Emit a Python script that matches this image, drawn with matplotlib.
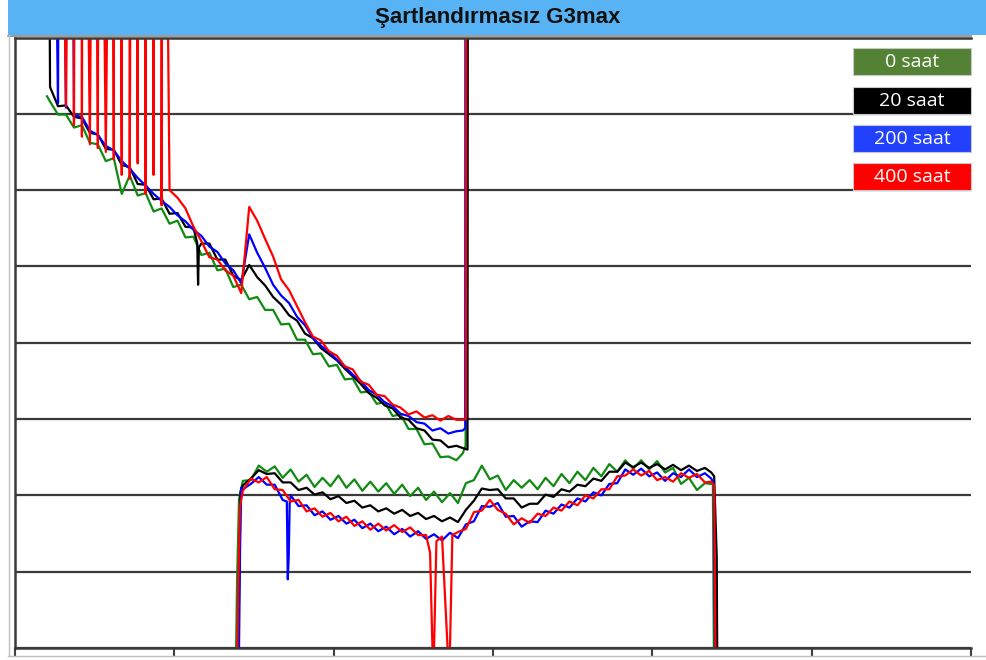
import numpy as np
import matplotlib
matplotlib.use("Agg")
import matplotlib.pyplot as plt
from matplotlib.patches import Rectangle
from matplotlib.lines import Line2D

# sampling grids of the two sweeps
decay_x = np.arange(22, 278, 5)
plateau_x = np.arange(143, 434, 5)

labels = ["0 saat", "20 saat", "200 saat", "400 saat"]
line_colors = ["#108a10", "#000000", "#0000ff", "#ff0000"]
box_colors = ["#548235", "#000000", "#2141ff", "#ff0000"]

# ---- 0 saat
green_decay = [71.6, 69.9, 69.9, 68.2, 68.5, 66.2, 66.0, 63.8, 64.2, 59.5,
               61.9, 59.3, 59.6, 57.2, 57.6, 55.6, 56.0, 53.8, 53.9, 51.5,
               51.8, 49.5, 49.7, 47.3, 47.6, 45.7, 46.0, 44.3, 44.3, 42.4,
               42.5, 40.4, 40.4, 38.5, 38.6, 36.9, 37.1, 35.2, 35.3, 33.5,
               33.6, 32.0, 32.2, 30.4, 30.6, 28.7, 28.7, 26.7, 26.8, 25.0,
               25.1, 24.6]
green_decay_ex_x = [20.1, 281.0, 282.8, 283.0]
green_decay_ex_y = [72.3, 25.5, 26.5, 150]
green_plateau = [21.9, 22.0, 23.9, 23.1, 23.8, 22.3, 23.4, 21.8, 22.7, 21.1,
                 22.3, 21.2, 22.6, 21.0, 22.1, 20.6, 21.8, 20.5, 21.6, 20.2,
                 21.4, 19.9, 21.0, 19.4, 20.5, 19.1, 20.3, 19.0, 21.6, 22.0,
                 23.9, 22.1, 22.6, 20.7, 22.0, 21.0, 22.0, 20.8, 22.3, 21.2,
                 22.8, 21.6, 23.1, 22.0, 23.6, 22.5, 24.1, 23.1, 24.6, 23.5,
                 24.6, 23.4, 24.5, 23.0, 23.6, 21.5, 22.3, 20.7, 21.6]
green_plateau_ex_x = [138.8, 139.4, 140.6, 437.0, 438.0, 438.6]
green_plateau_ex_y = [0, 9.0, 19.5, 21.5, 21.8, 0]

# ---- 20 saat
black_decay = [73.5, 71.0, 71.1, 69.6, 69.4, 67.5, 67.3, 65.4, 65.3, 63.3,
               63.0, 60.8, 60.7, 58.8, 58.9, 56.9, 57.0, 55.2, 55.1, 53.0,
               53.0, 50.9, 50.9, 48.8, 48.2, 50.2, 48.6, 47.5, 46.0, 45.0,
               43.6, 42.9, 41.2, 40.6, 39.3, 38.5, 37.7, 36.6, 35.6, 34.6,
               33.4, 32.8, 31.8, 31.4, 30.2, 29.9, 28.8, 28.5, 27.3, 27.2,
               26.3, 26.5]
black_decay_ex_x = [20.1, 114.4, 114.9, 115.4, 281.0, 284.0, 284.4]
black_decay_ex_y = [150, 53.0, 47.6, 52.5, 26.2, 26.0, 150]
black_plateau = [21.3, 22.2, 23.3, 22.8, 22.9, 21.7, 21.7, 20.7, 21.0, 20.1,
                 20.4, 19.5, 19.9, 19.0, 19.3, 18.4, 18.7, 17.9, 18.3, 17.6,
                 18.1, 17.3, 17.7, 16.9, 17.3, 16.6, 17.1, 16.5, 18.1, 19.3,
                 20.9, 20.7, 20.8, 19.6, 19.6, 18.4, 18.9, 18.9, 20.1, 19.8,
                 20.8, 20.5, 21.4, 21.2, 22.2, 21.9, 23.1, 23.1, 24.3, 23.7,
                 24.3, 23.6, 24.1, 23.4, 24.0, 23.3, 23.9, 23.2, 23.6]
black_plateau_ex_x = [140.2, 140.8, 141.6, 437.0, 438.8, 440.4, 440.7]
black_plateau_ex_y = [0, 10.0, 20.5, 23.0, 22.5, 12.0, 0]

# ---- 200 saat
blue_decay = [150, 71.4, 70.8, 69.8, 69.6, 67.8, 67.2, 65.8, 65.2, 63.8,
              62.8, 61.6, 60.6, 59.5, 58.6, 57.8, 56.7, 55.9, 54.8, 54.0,
              52.6, 51.9, 50.4, 49.5, 47.8, 54.2, 51.8, 49.8, 47.6, 46.2,
              45.2, 43.4, 42.3, 40.6, 39.6, 38.8, 37.8, 36.9, 35.8, 35.0,
              33.8, 33.2, 32.2, 31.7, 30.7, 30.4, 29.6, 29.4, 28.5, 28.8,
              28.1, 28.4]
blue_decay_ex_x = [28.0, 28.6, 32.4, 33.0, 34.3, 34.9, 281.0, 282.6, 282.9]
blue_decay_ex_y = [150, 150, 150, 150, 150, 150, 28.5, 28.8, 150]
blue_plateau = [20.8, 21.5, 22.4, 21.4, 21.4, 19.4, 20.0, 18.6, 18.7, 17.4,
                17.9, 16.8, 17.3, 16.3, 16.8, 15.7, 16.3, 15.3, 15.9, 14.9,
                15.6, 14.6, 15.3, 14.3, 14.9, 14.1, 15.1, 14.4, 16.2, 16.6,
                18.6, 18.5, 19.0, 17.2, 17.3, 15.9, 16.6, 16.5, 18.0, 17.6,
                18.8, 18.4, 19.6, 19.2, 20.4, 20.0, 21.5, 21.6, 23.4, 22.7,
                23.5, 22.5, 23.0, 21.9, 22.9, 22.4, 23.4, 22.4, 22.9]
blue_plateau_ex_x = [140.6, 141.2, 141.9, 170.6, 171.2, 171.8, 172.4,
                     437.0, 438.6, 439.3]
blue_plateau_ex_y = [0, 12.0, 21.0, 19.2, 9.0, 12.0, 19.0, 22.2, 21.5, 0]

# ---- 400 saat
red_decay = [150, 150, 71.0, 68.5, 67.0, 66.0, 65.5, 65.0, 64.0, 62.0,
             61.5, 63.5, 59.5, 62.0, 58.0, 60.0, 59.0, 57.6, 55.2, 53.3,
             51.2, 50.9, 49.5, 48.8, 46.5, 57.8, 56.0, 53.6, 51.3, 48.3,
             46.9, 44.8, 42.7, 40.8, 40.3, 38.9, 38.3, 36.9, 36.5, 34.9,
             34.5, 33.2, 33.0, 31.9, 31.5, 30.6, 31.0, 30.2, 30.5, 29.8,
             30.4, 29.9]
red_decay_ex_x = [35.2, 36.4, 38.3, 39.5, 41.4, 42.7, 49.6, 52.7, 60.9, 62.1,
                  64.0, 65.3, 67.2, 68.4, 70.3, 71.6, 73.4, 74.7, 76.0, 77.2,
                  79.1, 80.4, 82.2, 83.5, 86.0, 87.3, 89.1, 90.4, 91.7, 92.9,
                  281.0, 283.0, 283.3]
red_decay_ex_y = [150] * 30 + [29.9, 30.0, 150]
red_plateau = [20.6, 22.2, 21.7, 22.4, 20.8, 20.7, 19.2, 19.4, 17.9, 18.3,
               17.2, 17.7, 16.6, 17.2, 16.0, 16.6, 15.5, 16.3, 15.4, 16.1,
               15.2, 15.8, 14.8, 14.8, 0.0, 14.6, 0.0, 15.2, 15.6, 17.8,
               18.0, 19.4, 18.1, 17.6, 16.2, 17.0, 16.4, 17.6, 17.3, 18.4,
               18.0, 19.2, 18.7, 20.0, 19.6, 20.8, 20.8, 22.5, 22.6, 23.4,
               22.6, 23.2, 22.0, 22.4, 21.8, 22.9, 22.3, 22.8, 21.7]
red_plateau_ex_x = [139.6, 140.2, 141.2, 260.5, 262.0, 264.5, 271.5, 274.5,
                    437.0, 438.8, 439.6]
red_plateau_ex_y = [0, 8.8, 18.5, 12.5, 0.0, 14.0, 0.0, 14.8, 21.8, 21.3, 0]


def merge(gx, gy, ex, ey):
    x = np.concatenate([gx, ex])
    y = np.concatenate([np.asarray(gy, float), np.asarray(ey, float)])
    order = np.argsort(x, kind="stable")
    return x[order], y[order]


series = [
    (green_decay, green_decay_ex_x, green_decay_ex_y,
     green_plateau, green_plateau_ex_x, green_plateau_ex_y),
    (black_decay, black_decay_ex_x, black_decay_ex_y,
     black_plateau, black_plateau_ex_x, black_plateau_ex_y),
    (blue_decay, blue_decay_ex_x, blue_decay_ex_y,
     blue_plateau, blue_plateau_ex_x, blue_plateau_ex_y),
    (red_decay, red_decay_ex_x, red_decay_ex_y,
     red_plateau, red_plateau_ex_x, red_plateau_ex_y),
]

W, H = 986, 660
fig = plt.figure(figsize=(W / 100, H / 100), dpi=100)

# title band
fig.add_artist(Rectangle((8 / W, 1 - 35 / H), (W - 8) / W, 35 / H,
                         transform=fig.transFigure, facecolor="#57b3f3",
                         edgecolor="none", zorder=0))
fig.add_artist(Line2D([8 / W, 971 / W], [1 - 35.5 / H] * 2,
                      transform=fig.transFigure, color="#8a8a8a", lw=1.2))
fig.text(498 / W, 1 - 18 / H, "Şartlandırmasız G3max", ha="center",
         va="center", fontsize=16, fontweight="bold",
         family="Liberation Sans", color="#111111")

# light outer frame
fig.add_artist(Line2D([8.5 / W] * 2, [1 - 35 / H, 1 - 655 / H],
                      transform=fig.transFigure, color="#c0c0c0", lw=1))
fig.add_artist(Line2D([8 / W, 1], [1 - 655.5 / H] * 2,
                      transform=fig.transFigure, color="#c0c0c0", lw=1))

ax = fig.add_axes([15 / W, 12 / H, 956 / W, 610.5 / H])
for i, (dy, dex, dey, py, pex, pey) in enumerate(series):
    x, y = merge(decay_x, dy, dex, dey)
    ax.plot(x, y, color=line_colors[i], lw=1.6)
    x, y = merge(plateau_x, py, pex, pey)
    ax.plot(x, y, color=line_colors[i], lw=1.6)

ax.set_xlim(0, 600)
ax.set_ylim(0, 80)
ax.set_xticks(range(0, 601, 100))
ax.set_yticks(range(0, 81, 10))
ax.yaxis.grid(True, color="#3a3a3a", lw=1.6)
ax.set_axisbelow(True)
ax.tick_params(axis="y", length=0, labelleft=False)
ax.tick_params(axis="x", direction="out", length=5.5, width=1.5,
               color="#404040", labelbottom=False)
for side in ["left", "top", "bottom"]:
    ax.spines[side].set_color("#3a3a3a")
    ax.spines[side].set_linewidth(1.8)
ax.spines["right"].set_visible(False)

# legend boxes
box_tops = [48, 87, 125, 163]
for lab, c, top in zip(labels, box_colors, box_tops):
    fig.add_artist(Rectangle((853 / W, 1 - (top + 27) / H), 118 / W, 27 / H,
                             transform=fig.transFigure, facecolor=c,
                             edgecolor="#c8c8c8", lw=0.8, zorder=5))
    fig.text(912 / W, 1 - (top + 14) / H, lab, ha="center", va="center",
             color="white", fontsize=14, family="Open Sans", zorder=6)

fig.savefig("out.png", dpi=100)
